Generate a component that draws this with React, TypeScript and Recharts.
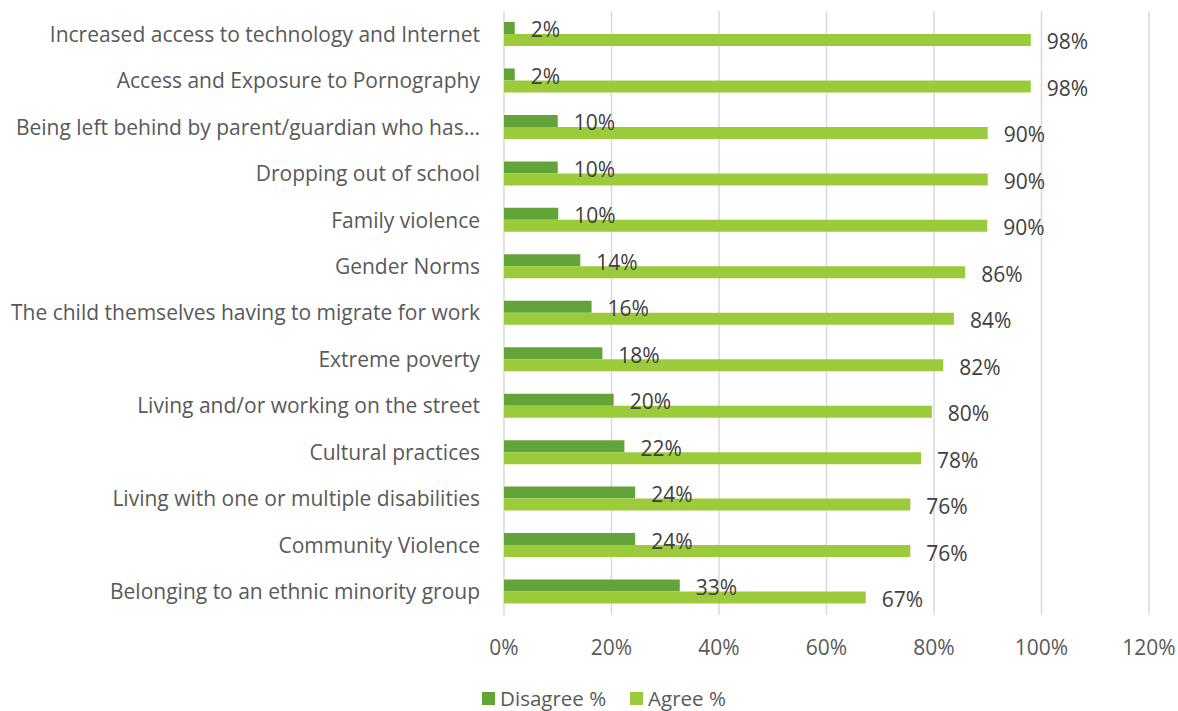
import React from 'react';
import { BarChart, Bar, XAxis, YAxis, CartesianGrid, Legend, LabelList } from 'recharts';

const categories = [
  'Increased access to technology and Internet',
  'Access and Exposure to Pornography',
  'Being left behind by parent/guardian who has…',
  'Dropping out of school',
  'Family violence',
  'Gender Norms',
  'The child themselves having to migrate for work',
  'Extreme poverty',
  'Living and/or working on the street',
  'Cultural practices',
  'Living with one or multiple disabilities',
  'Community Violence',
  'Belonging to an ethnic minority group',
];
const disagree = [2, 2, 10, 10, 10.1, 14.2, 16.3, 18.3, 20.4, 22.4, 24.4, 24.4, 32.7];
const agree = [98, 98, 90, 90, 89.9, 85.8, 83.7, 81.7, 79.6, 77.6, 75.6, 75.6, 67.3];
const xTicks = [0, 20, 40, 60, 80, 100, 120];

const data = categories.map((c, i) => ({ name: c, disagree: disagree[i], agree: agree[i] }));

const DARK = '#62A33A';
const LIGHT = '#9BCB3B';
const FONT = '"Open Sans", sans-serif';
const FS = 21;
const pct = (v: number) => `${Math.round(v)}%`;

const LegendContent = () => (
  <div style={{ display: 'flex', justifyContent: 'center', alignItems: 'center', height: 26, paddingLeft: 59, fontFamily: FONT, fontSize: 20.5, color: '#595959' }}>
    <span style={{ display: 'inline-block', width: 13, height: 13, background: DARK, marginRight: 5 }} />
    <span style={{ marginRight: 24 }}>Disagree %</span>
    <span style={{ display: 'inline-block', width: 13, height: 13, background: LIGHT, marginRight: 5 }} />
    <span>Agree %</span>
  </div>
);

export default function App() {
  return (
    <div style={{ position: 'absolute', left: 0, top: 0, background: '#fff' }}>
      <BarChart
        width={1178}
        height={711}
        data={data}
        layout="vertical"
        margin={{ top: 11, right: 29, left: 0, bottom: 0 }}
        barGap={0}
        barSize={12}
      >
        <CartesianGrid horizontal={false} stroke="#d9d9d9" strokeWidth={1.5} />
        <XAxis
          type="number"
          domain={[0, 120]}
          ticks={xTicks}
          tickFormatter={(v) => `${v}%`}
          axisLine={false}
          tickLine={false}
          tickMargin={19}
          height={70}
          tick={{ fill: '#595959', fontSize: FS, fontFamily: FONT }}
        />
        <YAxis
          type="category"
          dataKey="name"
          width={504}
          interval={0}
          axisLine={false}
          tickLine={false}
          tickMargin={18}
          tick={{ fill: '#595959', fontSize: FS, fontFamily: FONT }}
        />
        <Legend verticalAlign="bottom" content={<LegendContent />} />
        <Bar dataKey="disagree" name="Disagree %" fill={DARK} isAnimationActive={false}>
          <LabelList dataKey="disagree" position="right" offset={16} formatter={pct} fill="#404040" fontSize={FS} fontFamily={FONT} dy={2} />
        </Bar>
        <Bar dataKey="agree" name="Agree %" fill={LIGHT} isAnimationActive={false}>
          <LabelList dataKey="agree" position="right" offset={16} formatter={pct} fill="#404040" fontSize={FS} fontFamily={FONT} dy={2} />
        </Bar>
      </BarChart>
    </div>
  );
}
